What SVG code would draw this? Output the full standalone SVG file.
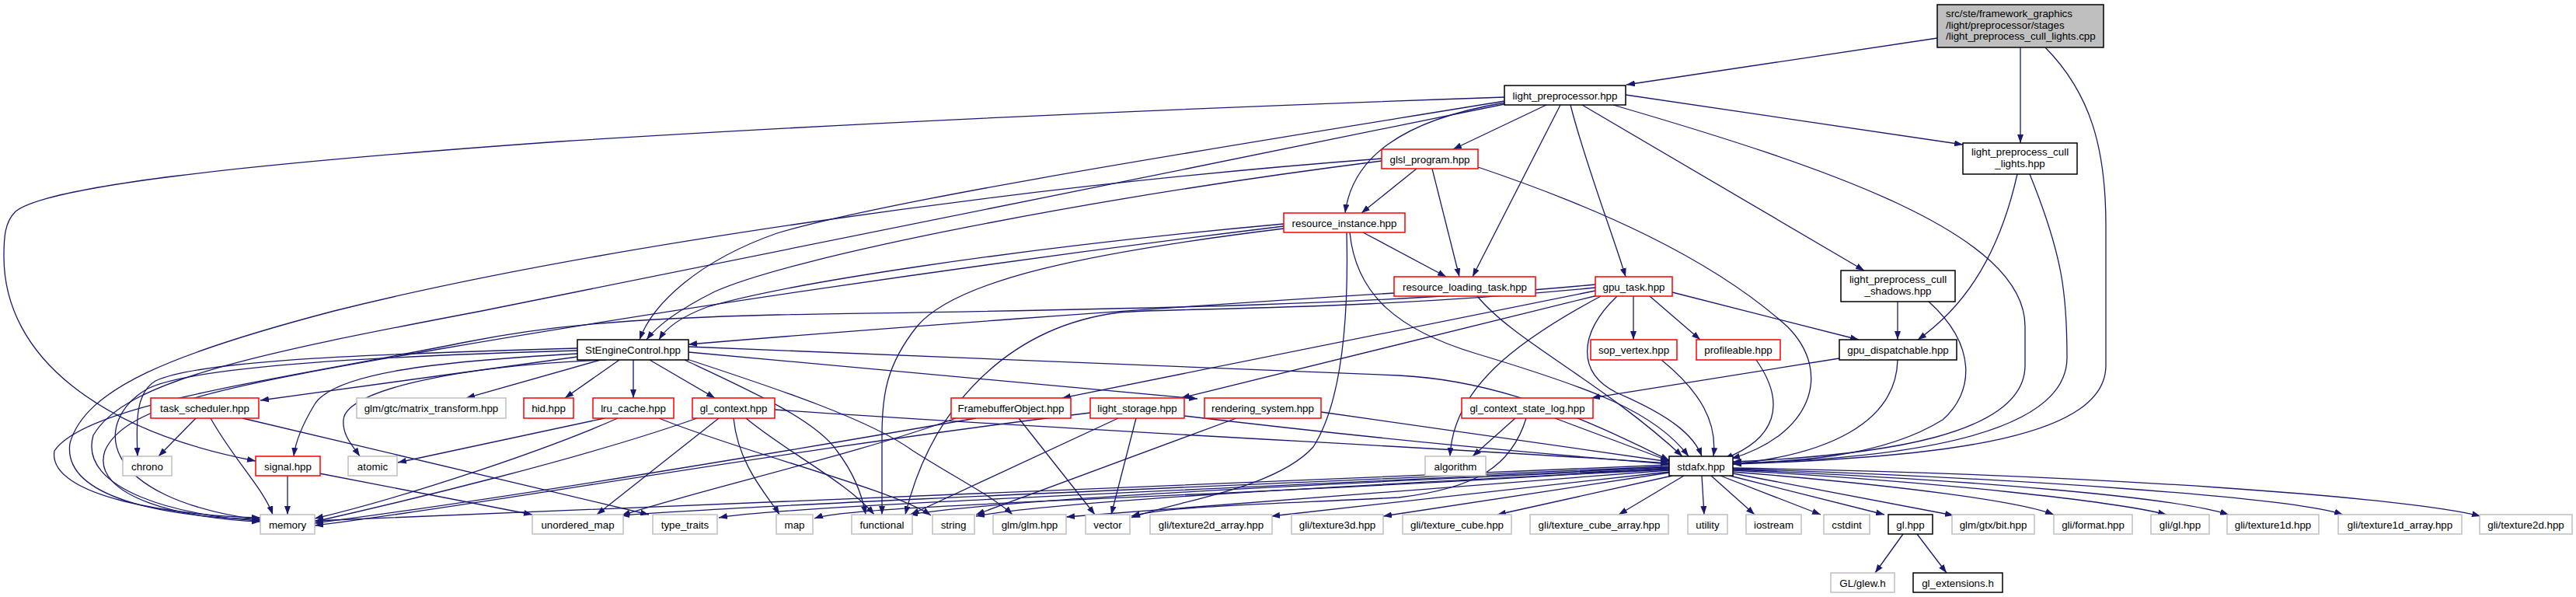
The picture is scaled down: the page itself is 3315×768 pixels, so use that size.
<svg xmlns="http://www.w3.org/2000/svg" width="3315" height="768" viewBox="0 0 3315 768">
<style>
.e{fill:none;stroke:#191970;stroke-width:1.3;marker-end:url(#a)}
rect{stroke-width:1.5}
.b{fill:#fff;stroke:#000}
.r{fill:#fff;stroke:#ff0000}
.g{fill:#fff;stroke:#bfbfbf}
.rt{fill:#bfbfbf;stroke:#000}
text{font-family:"Liberation Sans",Arial,sans-serif;font-size:13.33px;fill:#000;text-anchor:middle}
text.l{text-anchor:start}
</style>
<defs>
<marker id="a" viewBox="0 0 11 8" refX="11" refY="4" markerWidth="11" markerHeight="8" markerUnits="userSpaceOnUse" orient="auto">
<path d="M0,0 L11,4 L0,8 z" fill="#191970"/>
</marker>
</defs>
<rect width="3315" height="768" fill="#fff"/>
<g id="connectors">
<path class="e" d="M2493,49 L2093,109"/>
<path class="e" d="M2600,61 L2600,184"/>
<path class="e" d="M2632,61 C2690,120 2710,190 2710,290 L2710,470 C2710,560 2520,588 2230,597"/>
<path class="e" d="M2092,122 L2526,186"/>
<path class="e" d="M1990,135 L1870,192"/>
<path class="e" d="M2008,135 L1895,356"/>
<path class="e" d="M2021,135 C2040,210 2075,300 2092,356"/>
<path class="e" d="M2036,135 L2399,348"/>
<path class="e" d="M2076,135 C2350,215 2606,300 2606,420 L2606,470 C2606,560 2420,586 2230,594"/>
<path class="e" d="M1937,132 C1800,155 1740,205 1731,274"/>
<path class="e" d="M1936,130 C1600,185 1150,255 1000,300 C900,335 840,390 823,437"/>
<path class="e" d="M1936,125 C1500,140 1100,158 721,182 C300,212 60,240 20,272 C6,286 5,305 5,330 C5,460 130,555 329,593"/>
<path class="e" d="M1936,134 C1500,225 950,330 620,400 C330,455 160,490 120,560 C100,630 230,664 335,670"/>
<path class="e" d="M1778,207 C1400,255 1020,330 920,375 C870,400 845,420 832,437"/>
<path class="e" d="M1778,204 C1300,240 750,320 430,400 C220,455 110,500 90,570 C80,640 210,665 335,668"/>
<path class="e" d="M1823,217 L1752,274"/>
<path class="e" d="M1843,217 L1878,356"/>
<path class="e" d="M1902,215 C2050,265 2200,330 2300,420 C2360,480 2330,560 2228,590"/>
<path class="e" d="M1754,299 L1861,356"/>
<path class="e" d="M1652,288 C1300,320 1010,365 910,395 C875,408 857,422 848,437"/>
<path class="e" d="M1652,291 C1250,340 850,400 560,450 C300,495 160,520 135,580 C115,640 240,668 335,671"/>
<path class="e" d="M1652,294 C1400,325 1230,360 1180,420 C1140,470 1135,510 1135,560 L1135,662"/>
<path class="e" d="M1737,299 C1745,380 1800,425 1900,455 C2050,500 2130,530 2173,587"/>
<path class="e" d="M1733,299 C1736,420 1725,520 1690,575 C1640,630 1510,645 1456,666"/>
<path class="e" d="M1794,377 C1500,395 1100,425 886,443"/>
<path class="e" d="M1901,381 C1950,440 2060,490 2165,587"/>
<path class="e" d="M2102,381 L2102,437"/>
<path class="e" d="M2123,381 L2188,437"/>
<path class="e" d="M2152,376 L2392,437"/>
<path class="e" d="M2053,374 L1367,512"/>
<path class="e" d="M2056,380 L1520,512"/>
<path class="e" d="M2081,381 C2030,430 2030,480 2080,505 C2150,535 2180,560 2190,587"/>
<path class="e" d="M2060,381 C1950,440 1870,500 1866,587"/>
<path class="e" d="M2053,366 C1750,395 1400,398 1000,405 C800,410 700,420 600,440 C350,490 110,520 70,580 C60,640 230,664 335,666"/>
<path class="e" d="M2053,370 C1750,400 1500,396 1440,402 C1300,420 1200,520 1165,662"/>
<path class="e" d="M2138,463 C2190,505 2210,545 2205,587"/>
<path class="e" d="M2260,463 C2300,520 2285,565 2219,590"/>
<path class="e" d="M2367,461 L2048,512"/>
<path class="e" d="M2442,463 C2440,545 2350,585 2230,597"/>
<path class="e" d="M2596,224 C2570,340 2520,400 2468,437"/>
<path class="e" d="M2612,224 C2655,330 2660,380 2660,460 C2660,560 2450,590 2230,596"/>
<path class="e" d="M2442,388 L2442,437"/>
<path class="e" d="M2482,388 C2545,445 2540,505 2500,540 C2420,590 2300,594 2230,596"/>
<path class="e" d="M1950,538 L1895,587"/>
<path class="e" d="M2001,538 L2148,593"/>
<path class="e" d="M1964,538 C1945,600 1900,628 1800,640 C1600,650 1500,652 1456,664"/>
<path class="e" d="M743,459 L335,515"/>
<path class="e" d="M773,463 L600,512"/>
<path class="e" d="M797,463 L727,512"/>
<path class="e" d="M815,463 L815,512"/>
<path class="e" d="M836,463 L920,512"/>
<path class="e" d="M886,453 L1541,513"/>
<path class="e" d="M886,446 L1800,483 C1950,490 2080,560 2148,592"/>
<path class="e" d="M743,448 C500,455 260,462 200,490 C175,505 175,540 177,587"/>
<path class="e" d="M743,455 C560,465 430,480 405,520 C388,548 380,570 378,587"/>
<path class="e" d="M780,463 C600,470 445,500 442,540 C440,560 455,575 463,587"/>
<path class="e" d="M743,451 C500,458 250,470 190,500 C120,540 120,640 335,669"/>
<path class="e" d="M881,463 C960,500 1050,540 1077,580 C1100,610 1110,640 1114,662"/>
<path class="e" d="M884,462 C1000,500 1120,540 1175,580 C1230,615 1280,640 1303,662"/>
<path class="e" d="M252,538 L204,587"/>
<path class="e" d="M271,538 C300,590 340,630 351,662"/>
<path class="e" d="M312,538 L835,662"/>
<path class="e" d="M370,612 L370,662"/>
<path class="e" d="M411,609 L685,662"/>
<path class="e" d="M778,538 L512,595"/>
<path class="e" d="M795,538 C700,580 520,640 405,667"/>
<path class="e" d="M848,538 C950,580 1150,630 1198,663"/>
<path class="e" d="M897,538 C750,590 520,645 405,671"/>
<path class="e" d="M925,538 L768,662"/>
<path class="e" d="M944,538 C950,600 990,640 1003,662"/>
<path class="e" d="M960,538 C1010,580 1090,620 1125,662"/>
<path class="e" d="M997,527 C1400,555 1900,578 2148,596"/>
<path class="e" d="M1256,538 C900,600 620,645 405,673"/>
<path class="e" d="M1230,538 C1100,585 900,630 800,663"/>
<path class="e" d="M1311,538 L1409,662"/>
<path class="e" d="M1403,531 C1000,580 620,650 405,676"/>
<path class="e" d="M1439,538 L1172,662"/>
<path class="e" d="M1462,538 L1430,662"/>
<path class="e" d="M1524,535 C1800,568 2000,585 2148,597"/>
<path class="e" d="M1591,538 L1256,662"/>
<path class="e" d="M1700,530 L2148,594"/>
<path class="e" d="M2148,598 C1500,625 800,655 405,670"/>
<path class="e" d="M2148,600 C1500,628 1000,648 799,663"/>
<path class="e" d="M2148,601 C1500,632 1000,652 925,666"/>
<path class="e" d="M2148,602 C1600,640 1100,648 1048,667"/>
<path class="e" d="M2148,603 C1700,622 1300,642 1170,662"/>
<path class="e" d="M2148,604 C1700,626 1350,646 1256,664"/>
<path class="e" d="M2148,605 L1372,665"/>
<path class="e" d="M2148,607 L1636,664"/>
<path class="e" d="M2148,608 L1780,664"/>
<path class="e" d="M2152,612 L1927,662"/>
<path class="e" d="M2167,612 L2083,662"/>
<path class="e" d="M2190,612 L2193,662"/>
<path class="e" d="M2202,612 L2258,662"/>
<path class="e" d="M2214,612 L2343,662"/>
<path class="e" d="M2226,612 L2425,662"/>
<path class="e" d="M2230,609 L2514,663"/>
<path class="e" d="M2230,607 C2450,625 2600,645 2643,662"/>
<path class="e" d="M2230,605 C2500,620 2720,645 2788,662"/>
<path class="e" d="M2230,604 C2550,618 2800,640 2868,662"/>
<path class="e" d="M2230,603 C2600,615 2950,640 3015,662"/>
<path class="e" d="M2230,602 C2700,610 3100,640 3192,664"/>
<path class="e" d="M2449,687 L2413,737"/>
<path class="e" d="M2467,687 L2505,737"/>
</g>
<g id="node_root"><rect class="rt" x="2493" y="6" width="214" height="55"/><text class="l" x="2504" y="22">src/ste/framework_graphics</text><text class="l" x="2504" y="37">/light/preprocessor/stages</text><text class="l" x="2504" y="51">/light_preprocess_cull_lights.cpp</text></g>
<g id="node_light_preprocessor"><rect class="b" x="1936" y="110" width="156" height="25"/><text x="2014" y="127.5">light_preprocessor.hpp</text></g>
<g id="node_lp_cull_lights"><rect class="b" x="2526" y="184" width="147" height="40"/><text x="2599.5" y="200">light_preprocess_cull</text><text x="2599.5" y="215">_lights.hpp</text></g>
<g id="node_lp_cull_shadows"><rect class="b" x="2369" y="348" width="147" height="40"/><text x="2442.5" y="364">light_preprocess_cull</text><text x="2442.5" y="379">_shadows.hpp</text></g>
<g id="node_gpu_dispatchable"><rect class="b" x="2367" y="437" width="151" height="26"/><text x="2442.5" y="455">gpu_dispatchable.hpp</text></g>
<g id="node_StEngineControl"><rect class="b" x="743" y="437" width="143" height="26"/><text x="814.5" y="455">StEngineControl.hpp</text></g>
<g id="node_stdafx"><rect class="b" x="2148" y="587" width="82" height="25"/><text x="2189" y="604.5">stdafx.hpp</text></g>
<g id="node_gl"><rect class="b" x="2430" y="662" width="57" height="25"/><text x="2458.5" y="679.5">gl.hpp</text></g>
<g id="node_gl_extensions"><rect class="b" x="2462" y="737" width="115" height="25"/><text x="2519.5" y="754.5">gl_extensions.h</text></g>
<g id="node_glsl_program"><rect class="r" x="1778" y="192" width="124" height="25"/><text x="1840" y="209.5">glsl_program.hpp</text></g>
<g id="node_resource_instance"><rect class="r" x="1652" y="274" width="156" height="25"/><text x="1730" y="291.5">resource_instance.hpp</text></g>
<g id="node_resource_loading_task"><rect class="r" x="1794" y="356" width="182" height="25"/><text x="1885" y="373.5">resource_loading_task.hpp</text></g>
<g id="node_gpu_task"><rect class="r" x="2053" y="356" width="99" height="25"/><text x="2102.5" y="373.5">gpu_task.hpp</text></g>
<g id="node_sop_vertex"><rect class="r" x="2047" y="437" width="111" height="26"/><text x="2102.5" y="455">sop_vertex.hpp</text></g>
<g id="node_profileable"><rect class="r" x="2183" y="437" width="108" height="26"/><text x="2237" y="455">profileable.hpp</text></g>
<g id="node_task_scheduler"><rect class="r" x="194" y="512" width="139" height="26"/><text x="263.5" y="530">task_scheduler.hpp</text></g>
<g id="node_hid"><rect class="r" x="674" y="512" width="64" height="26"/><text x="706" y="530">hid.hpp</text></g>
<g id="node_lru_cache"><rect class="r" x="763" y="512" width="104" height="26"/><text x="815" y="530">lru_cache.hpp</text></g>
<g id="node_gl_context"><rect class="r" x="891" y="512" width="106" height="26"/><text x="944" y="530">gl_context.hpp</text></g>
<g id="node_FramebufferObject"><rect class="r" x="1224" y="512" width="154" height="26"/><text x="1301" y="530">FramebufferObject.hpp</text></g>
<g id="node_light_storage"><rect class="r" x="1403" y="512" width="121" height="26"/><text x="1463.5" y="530">light_storage.hpp</text></g>
<g id="node_rendering_system"><rect class="r" x="1550" y="512" width="150" height="26"/><text x="1625" y="530">rendering_system.hpp</text></g>
<g id="node_gl_context_state_log"><rect class="r" x="1881" y="512" width="169" height="26"/><text x="1965.5" y="530">gl_context_state_log.hpp</text></g>
<g id="node_signal"><rect class="r" x="329" y="587" width="83" height="25"/><text x="370.5" y="604.5">signal.hpp</text></g>
<g id="node_matrix_transform"><rect class="g" x="459" y="512" width="192" height="26"/><text x="555" y="530">glm/gtc/matrix_transform.hpp</text></g>
<g id="node_chrono"><rect class="g" x="158" y="587" width="63" height="25"/><text x="189.5" y="604.5">chrono</text></g>
<g id="node_atomic"><rect class="g" x="448" y="587" width="63" height="25"/><text x="479.5" y="604.5">atomic</text></g>
<g id="node_algorithm"><rect class="g" x="1834" y="587" width="78" height="25"/><text x="1873" y="604.5">algorithm</text></g>
<g id="node_memory"><rect class="g" x="335" y="662" width="70" height="25"/><text x="370" y="679.5">memory</text></g>
<g id="node_unordered_map"><rect class="g" x="685" y="662" width="117" height="25"/><text x="743.5" y="679.5">unordered_map</text></g>
<g id="node_type_traits"><rect class="g" x="840" y="662" width="83" height="25"/><text x="881.5" y="679.5">type_traits</text></g>
<g id="node_map"><rect class="g" x="999" y="662" width="47" height="25"/><text x="1022.5" y="679.5">map</text></g>
<g id="node_functional"><rect class="g" x="1096" y="662" width="78" height="25"/><text x="1135" y="679.5">functional</text></g>
<g id="node_string"><rect class="g" x="1200" y="662" width="54" height="25"/><text x="1227" y="679.5">string</text></g>
<g id="node_glm_glm"><rect class="g" x="1278" y="662" width="94" height="25"/><text x="1325" y="679.5">glm/glm.hpp</text></g>
<g id="node_vector"><rect class="g" x="1397" y="662" width="57" height="25"/><text x="1425.5" y="679.5">vector</text></g>
<g id="node_texture2d_array"><rect class="g" x="1480" y="662" width="157" height="25"/><text x="1558.5" y="679.5">gli/texture2d_array.hpp</text></g>
<g id="node_texture3d"><rect class="g" x="1662" y="662" width="118" height="25"/><text x="1721" y="679.5">gli/texture3d.hpp</text></g>
<g id="node_texture_cube"><rect class="g" x="1805" y="662" width="140" height="25"/><text x="1875" y="679.5">gli/texture_cube.hpp</text></g>
<g id="node_texture_cube_array"><rect class="g" x="1969" y="662" width="178" height="25"/><text x="2058" y="679.5">gli/texture_cube_array.hpp</text></g>
<g id="node_utility"><rect class="g" x="2172" y="662" width="51" height="25"/><text x="2197.5" y="679.5">utility</text></g>
<g id="node_iostream"><rect class="g" x="2247" y="662" width="71" height="25"/><text x="2282.5" y="679.5">iostream</text></g>
<g id="node_cstdint"><rect class="g" x="2347" y="662" width="59" height="25"/><text x="2376.5" y="679.5">cstdint</text></g>
<g id="node_gtx_bit"><rect class="g" x="2512" y="662" width="106" height="25"/><text x="2565" y="679.5">glm/gtx/bit.hpp</text></g>
<g id="node_gli_format"><rect class="g" x="2643" y="662" width="101" height="25"/><text x="2693.5" y="679.5">gli/format.hpp</text></g>
<g id="node_gli_gl"><rect class="g" x="2768" y="662" width="75" height="25"/><text x="2805.5" y="679.5">gli/gl.hpp</text></g>
<g id="node_texture1d"><rect class="g" x="2866" y="662" width="118" height="25"/><text x="2925" y="679.5">gli/texture1d.hpp</text></g>
<g id="node_texture1d_array"><rect class="g" x="3009" y="662" width="159" height="25"/><text x="3088.5" y="679.5">gli/texture1d_array.hpp</text></g>
<g id="node_texture2d"><rect class="g" x="3191" y="662" width="119" height="25"/><text x="3250.5" y="679.5">gli/texture2d.hpp</text></g>
<g id="node_glew"><rect class="g" x="2356" y="737" width="82" height="25"/><text x="2397" y="754.5">GL/glew.h</text></g>
</svg>
